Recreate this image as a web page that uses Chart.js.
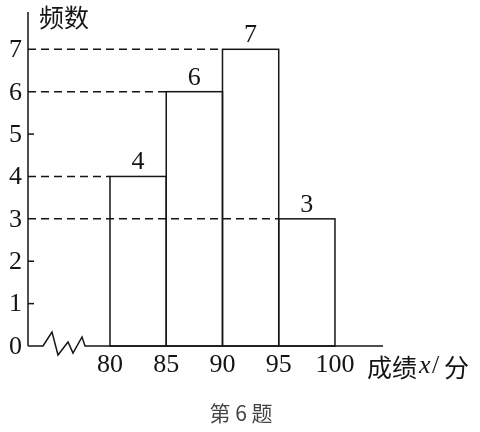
<!DOCTYPE html>
<html>
<head>
<meta charset="utf-8">
<script src="https://cdn.jsdelivr.net/npm/chart.js@4.4.1/dist/chart.umd.min.js"></script>
<style>
  html, body { margin: 0; background: #fff; }
  #wrap { width: 480px; height: 432px; position: relative; }
</style>
</head>
<body>
<div id="wrap"><canvas id="chart"></canvas></div>
<script>
// ===== 频数分布直方图 =====
var binStarts = [80, 85, 90, 95];   // 每组左端点
var freqs = [4, 6, 7, 3];           // 频数
var binWidth = 5;
var xTicks = [80, 85, 90, 95, 100];
var yTicks = [0, 1, 2, 3, 4, 5, 6, 7];

var SERIF = '"Liberation Serif", "DejaVu Serif", serif';
var CJK = '"Noto Sans CJK SC", sans-serif';
var INK = '#151515';

// ---- 坐标轴、虚线、标注 ----
var histDecor = {
  id: 'histDecor',
  afterDatasetsDraw: function(chart) {
    var ctx = chart.ctx, xs = chart.scales.x, ys = chart.scales.y, a = chart.chartArea;
    var x0 = a.left, y0 = ys.getPixelForValue(0);
    ctx.save();
    ctx.strokeStyle = INK; ctx.lineWidth = 1.5; ctx.fillStyle = INK;

    // 虚线：纵轴到每组左上角
    ctx.setLineDash([8, 5]);
    binStarts.forEach(function(b, i) {
      var py = ys.getPixelForValue(freqs[i]);
      ctx.beginPath(); ctx.moveTo(x0, py); ctx.lineTo(xs.getPixelForValue(b), py); ctx.stroke();
    });
    ctx.setLineDash([]);

    // 柱子轮廓
    chart.getDatasetMeta(0).data.forEach(function(bar) {
      var p = bar.getProps(['x', 'y', 'base', 'width'], true);
      ctx.strokeRect(p.x - p.width / 2, p.y, p.width, p.base - p.y);
    });

    // 纵轴
    ctx.beginPath(); ctx.moveTo(x0, a.top); ctx.lineTo(x0, y0); ctx.stroke();
    // 纵轴小刻度（无虚线处）
    yTicks.forEach(function(v) {
      if (v === 0 || freqs.indexOf(v) >= 0) return;
      var py = ys.getPixelForValue(v);
      ctx.beginPath(); ctx.moveTo(x0, py); ctx.lineTo(x0 + 6, py); ctx.stroke();
    });

    // 横轴 + 折断号
    ctx.beginPath();
    ctx.moveTo(x0, y0);
    ctx.lineTo(x0 + 15, y0);
    ctx.lineTo(x0 + 24, y0 - 14);
    ctx.lineTo(x0 + 30, y0 + 9);
    ctx.lineTo(x0 + 40, y0 - 4);
    ctx.lineTo(x0 + 45, y0 + 7);
    ctx.lineTo(x0 + 54, y0 - 9);
    ctx.lineTo(x0 + 57, y0);
    ctx.lineTo(a.right, y0);
    ctx.stroke();

    // 刻度数字
    ctx.font = '26px ' + SERIF;
    ctx.textAlign = 'right'; ctx.textBaseline = 'middle';
    yTicks.forEach(function(v) { ctx.fillText(String(v), x0 - 6, ys.getPixelForValue(v) + 1); });
    ctx.textAlign = 'center';
    xTicks.forEach(function(v) { ctx.fillText(String(v), xs.getPixelForValue(v), y0 + 19); });

    // 柱顶频数
    binStarts.forEach(function(b, i) {
      ctx.fillText(String(freqs[i]), xs.getPixelForValue(b + binWidth / 2), ys.getPixelForValue(freqs[i]) - 14);
    });

    // 轴标题
    ctx.textAlign = 'left';
    ctx.font = '25px ' + CJK;
    ctx.fillText('频数', 39, 17);
    ctx.fillText('成绩', 367, 367);
    ctx.font = 'italic 26px ' + SERIF;
    ctx.fillText('x', 419, 366);
    ctx.font = '26px ' + SERIF;
    ctx.fillText('/', 432, 366);
    ctx.font = '25px ' + CJK;
    ctx.fillText('分', 444, 367);

    // 题号
    ctx.fillStyle = '#444';
    ctx.textAlign = 'center';
    ctx.font = '21px ' + CJK;
    ctx.fillText('第 6 题', 241, 413);
    ctx.restore();
  }
};

new Chart(document.getElementById('chart'), {
  type: 'bar',
  data: {
    datasets: [{
      data: binStarts.map(function(b, i) { return { x: b + binWidth / 2, y: freqs[i] }; }),
      backgroundColor: 'rgba(0,0,0,0)',
      borderWidth: 0,
      barPercentage: 1,
      categoryPercentage: 1
    }]
  },
  options: {
    responsive: true, maintainAspectRatio: false, animation: false,
    layout: { padding: { left: 28, right: 97, top: 12, bottom: 86 } },
    plugins: { legend: { display: false }, tooltip: { enabled: false } },
    scales: {
      x: { type: 'linear', display: false, offset: false, min: 72.71, max: 104.27 },
      y: { display: false, min: 0, max: 7.88 }
    }
  },
  plugins: [histDecor]
});
</script>
</body>
</html>
